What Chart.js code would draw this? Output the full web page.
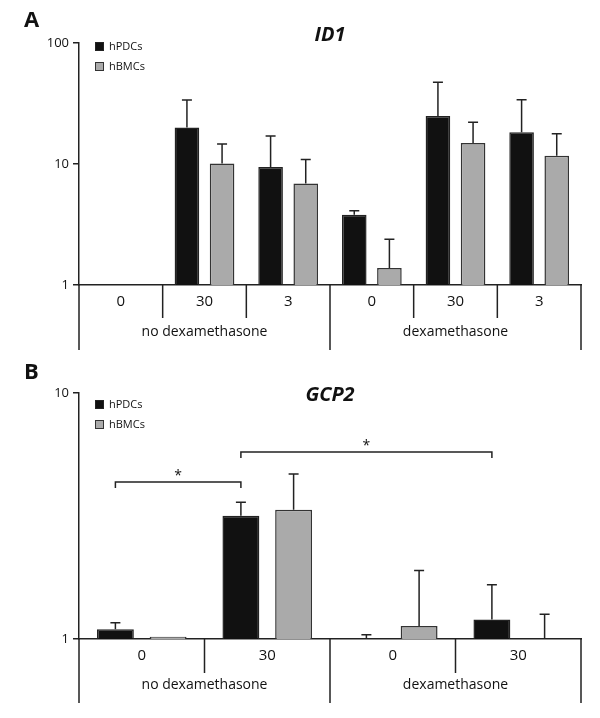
<!DOCTYPE html>
<html>
<head>
<meta charset="utf-8">
<script src="https://cdn.jsdelivr.net/npm/chart.js@4.4.0/dist/chart.umd.min.js"></script>
<style>
  html, body { margin: 0; padding: 0; background: #fff; }
  .panel { position: absolute; left: 0; width: 600px; }
  #pa { top: 0; height: 360px; }
  #pb { top: 360px; height: 358px; }
</style>
</head>
<body>
<div class="panel" id="pa"><canvas id="chartA"></canvas></div>
<div class="panel" id="pb"><canvas id="chartB"></canvas></div>
<script>
// A — ID1
const idCats   = ['0', '30', '3', '0', '30', '3'];
const idGroups = ['no dexamethasone', 'dexamethasone'];
const idPdc    = [null, 20.0, 9.45, 3.8, 24.9, 18.3];
const idPdcErr = [null, 33.8, 17.0, 4.1, 47.3, 34.0];
const idBmc    = [null, 10.1, 6.9, 1.38, 14.9, 11.7];
const idBmcErr = [null, 14.6, 10.9, 2.39, 22.1, 17.8];
const idTicks  = [1, 10, 100];

// B — GCP2
const gcCats   = ['0', '30', '0', '30'];
const gcGroups = ['no dexamethasone', 'dexamethasone'];
const gcPdc    = [1.095, 3.17, null, 1.20];
const gcPdcErr = [1.165, 3.6, 1.04, 1.66];
const gcBmc    = [1.022, 3.35, 1.13, null];
const gcBmcErr = [null, 4.69, 1.90, 1.26];
const gcTicks  = [1, 10];
// significance brackets between hPDCs bars (category index from/to, bracket level)
const gcSigFrom  = [0, 1];
const gcSigTo    = [1, 3];
const gcSigLevel = [4.35, 5.75];

const ink = '#222';
const font = (size, style) => (style || '') + ' ' + size + 'px "Open Sans", sans-serif';

// error bars (upper only), from the bar top to the error value
const errorBars = {
  id: 'errorBars',
  afterDatasetsDraw(chart) {
    const { ctx } = chart, y = chart.scales.y;
    ctx.save();
    ctx.strokeStyle = ink; ctx.lineWidth = 1.5;
    chart.data.datasets.forEach((ds, di) => {
      const meta = chart.getDatasetMeta(di);
      ds.errors.forEach((e, i) => {
        if (e == null) return;
        const px = meta.data[i].x;
        const from = y.getPixelForValue(Math.max(ds.data[i] ?? 1, 1));
        const top = y.getPixelForValue(e);
        ctx.beginPath();
        ctx.moveTo(px, from); ctx.lineTo(px, top);
        ctx.moveTo(px - 5, top); ctx.lineTo(px + 5, top);
        ctx.stroke();
      });
    });
    ctx.restore();
  }
};

// grouped category axis, title, panel letter, legend
const panelDecor = {
  id: 'panelDecor',
  afterDraw(chart, args, o) {
    const { ctx, chartArea: a } = chart, x = chart.scales.x;
    const n = chart.data.labels.length, per = n / o.groups.length;
    ctx.save();
    ctx.strokeStyle = ink; ctx.lineWidth = 1.5;
    ctx.beginPath();
    ctx.moveTo(a.left, a.bottom); ctx.lineTo(a.left, a.bottom + o.long);
    for (let i = 0; i < n; i++) {
      const bx = x.getPixelForValue(i + 0.5);
      const len = (i + 1) % per === 0 ? o.long : o.short;
      ctx.moveTo(bx, a.bottom); ctx.lineTo(bx, a.bottom + len);
    }
    ctx.stroke();

    ctx.fillStyle = '#111'; ctx.textAlign = 'center'; ctx.textBaseline = 'middle';
    ctx.font = font(14);
    o.groups.forEach((g, k) => {
      const l = x.getPixelForValue(k * per - 0.5), r = x.getPixelForValue((k + 1) * per - 0.5);
      ctx.fillText(g, (l + r) / 2, a.bottom + o.labelY);
    });

    ctx.font = font(20, 'italic bold');
    ctx.fillText(o.title, (a.left + a.right) / 2, o.titleY);
    ctx.textAlign = 'left';
    ctx.font = font(22, 'bold');
    ctx.fillText(o.letter, 24, o.letterY);

    ctx.font = font(11);
    chart.data.datasets.forEach((ds, k) => {
      const ly = a.top + o.legendY + k * 20;
      ctx.fillStyle = ds.backgroundColor; ctx.fillRect(a.left + 16, ly, 9, 9);
      ctx.strokeStyle = ds.borderColor; ctx.lineWidth = 1;
      ctx.strokeRect(a.left + 16.5, ly + 0.5, 8, 8);
      ctx.fillStyle = '#111';
      ctx.fillText(ds.label, a.left + 30, ly + 4.5);
    });
    ctx.restore();
  }
};

const sigBrackets = {
  id: 'sigBrackets',
  afterDatasetsDraw(chart, args, o) {
    const { ctx } = chart, y = chart.scales.y, meta = chart.getDatasetMeta(0);
    ctx.save();
    ctx.strokeStyle = ink; ctx.lineWidth = 1.5; ctx.fillStyle = '#111';
    ctx.font = font(14); ctx.textAlign = 'center'; ctx.textBaseline = 'middle';
    o.from.forEach((f, k) => {
      const x1 = meta.data[f].x, x2 = meta.data[o.to[k]].x;
      const yy = y.getPixelForValue(o.level[k]);
      ctx.beginPath();
      ctx.moveTo(x1, yy + 6); ctx.lineTo(x1, yy); ctx.lineTo(x2, yy); ctx.lineTo(x2, yy + 6);
      ctx.stroke();
      ctx.fillText('*', (x1 + x2) / 2, yy - 6);
    });
    ctx.restore();
  }
};

function makeChart(id, cats, pdc, pdcErr, bmc, bmcErr, ticks, pad, xHeight, decor, extra) {
  const plugins = [errorBars, panelDecor].concat(extra ? [sigBrackets] : []);
  return new Chart(document.getElementById(id), {
    type: 'bar',
    data: { labels: cats, datasets: [
      { label: 'hPDCs', data: pdc, errors: pdcErr, backgroundColor: '#111', borderColor: '#222', borderWidth: 1.5,
        categoryPercentage: 0.84, barPercentage: 0.7 },
      { label: 'hBMCs', data: bmc, errors: bmcErr, backgroundColor: '#aaa', borderColor: '#333', borderWidth: 1.5,
        categoryPercentage: 0.84, barPercentage: 0.7 }
    ]},
    options: {
      responsive: true, maintainAspectRatio: false, animation: false,
      layout: { padding: pad },
      plugins: { legend: { display: false }, tooltip: { enabled: false },
        panelDecor: decor, sigBrackets: extra || {} },
      scales: {
        x: {
          grid: { display: false, drawTicks: false },
          border: { display: true, color: ink, width: 1.5 },
          ticks: { color: '#111', font: { family: 'Open Sans', size: 15 }, padding: 8, maxRotation: 0 },
          afterFit: s => { s.height = xHeight; }
        },
        y: {
          type: 'logarithmic', min: ticks[0], max: ticks[ticks.length - 1],
          grid: { drawOnChartArea: false, drawTicks: true, tickLength: 6, color: ink, lineWidth: 1.5 },
          border: { display: true, color: ink, width: 1.5 },
          ticks: { color: '#111', font: { family: 'Open Sans', size: 13 }, padding: 4, callback: v => String(v) },
          afterBuildTicks: s => { s.ticks = ticks.map(v => ({ value: v })); },
          afterFit: s => { s.width = 79; }
        }
      }
    },
    plugins
  });
}

makeChart('chartA', idCats, idPdc, idPdcErr, idBmc, idBmcErr, idTicks,
  { left: 0, right: 19, top: 43, bottom: 0 }, 75,
  { groups: idGroups, long: 65, short: 33, labelY: 47, title: 'ID1', titleY: 35, letter: 'A', letterY: 21, legendY: -1 });

makeChart('chartB', gcCats, gcPdc, gcPdcErr, gcBmc, gcBmcErr, gcTicks,
  { left: 0, right: 19, top: 33, bottom: 0 }, 79,
  { groups: gcGroups, long: 64, short: 34, labelY: 46, title: 'GCP2', titleY: 35, letter: 'B', letterY: 13, legendY: 7 },
  { from: gcSigFrom, to: gcSigTo, level: gcSigLevel });
</script>
</body>
</html>
